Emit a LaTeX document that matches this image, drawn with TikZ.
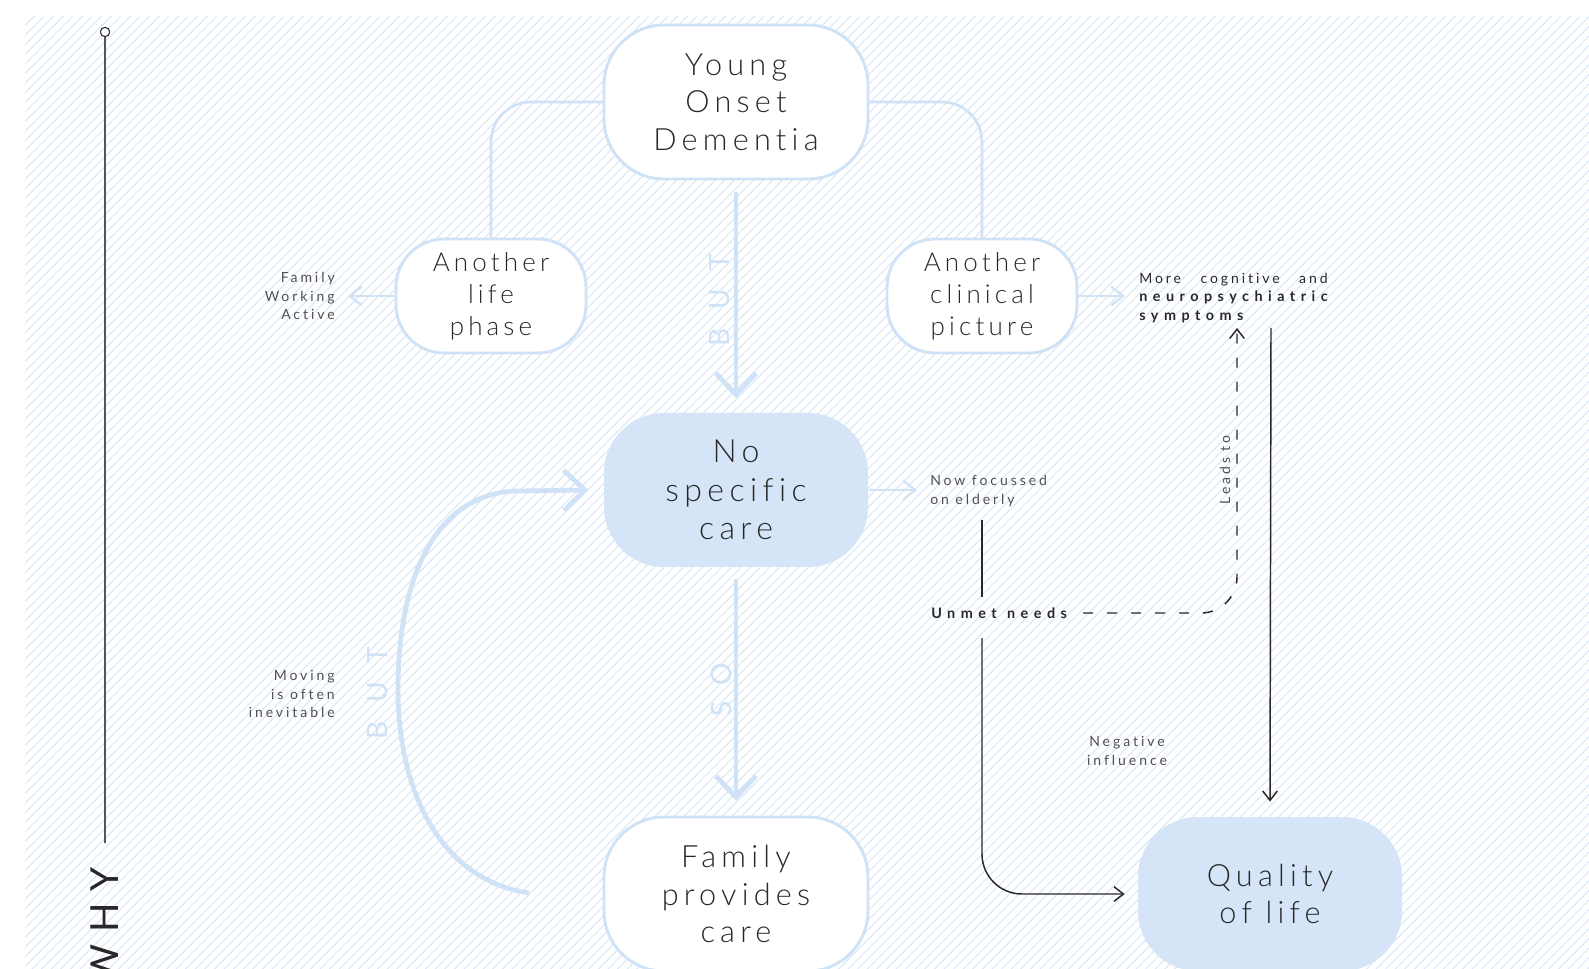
\documentclass[tikz,border=0pt]{standalone}
\usepackage{fontspec}
\setmainfont{Lato}[UprightFont={* Light}, BoldFont={* Bold}, Ligatures=NoCommon, RawFeature={-liga}]
\newfontfamily\lreg{Lato}[Ligatures=NoCommon, RawFeature={-liga}]
\usetikzlibrary{arrows.meta}
\definecolor{lb}{RGB}{208,226,246}
\definecolor{lbfill}{RGB}{213,229,247}
\definecolor{hatchc}{RGB}{212,228,247}
\definecolor{txt}{RGB}{40,40,40}
\definecolor{stxt}{RGB}{80,80,80}
\definecolor{tlc}{RGB}{85,85,85}
\newlength\mylen
\newcommand\bigf{\fontsize{23}{28}\selectfont\addfontfeature{LetterSpace=17}}
\newcommand\nscf{\fontsize{24}{29}\selectfont\addfontfeature{LetterSpace=17}}
\newcommand\midf{\fontsize{19.5}{24}\selectfont\addfontfeature{LetterSpace=16}}
\newcommand\smf{\lreg\fontsize{10.5}{14}\selectfont\addfontfeature{LetterSpace=21}}
\newcommand\smbf{\fontsize{10.8}{14}\selectfont\bfseries\addfontfeature{LetterSpace=38}}
\newcommand\lblf{\lreg\fontsize{21}{24}\selectfont}
\newcommand\whyf{\lreg\fontsize{29}{32}\selectfont}
\begin{document}
\begin{tikzpicture}[x=0.75pt,y=-0.75pt,
  hatch/.style={draw=hatchc, line width=0.65pt},
  wbox/.style={draw=lb, line width=2.2pt, fill=white, rounded corners=45pt,
    minimum width=198pt, minimum height=115.5pt, align=center, text=txt,
    font=\bigf, inner sep=0pt},
  fbox/.style={wbox, draw=none, fill=lbfill},
  sbox/.style={wbox, rounded corners=36pt, minimum width=142.5pt,
    minimum height=85.5pt, font=\midf},
  small/.style={text=stxt, font=\smf, inner sep=0pt},
  lbl/.style={text=lb, font=\lblf, inner sep=0pt},
  lbline/.style={draw=lb, line width=2pt, rounded corners=30pt},
  lbthin/.style={draw=lb, line width=1.6pt, -{Straight Barb[length=9pt,width=14pt]}},
  lbthick/.style={draw=lb, line width=3.6pt, -{Straight Barb[length=16pt,width=30pt]}},
  blk/.style={draw=txt, line width=1.1pt},
  blkarrow/.style={blk, -{Straight Barb[length=7pt,width=11pt]}},
]
\useasboundingbox (0,0) rectangle (1589,969);
\fill[white] (0,0) rectangle (1589,969);
\begin{scope}
  \clip (25,16) rectangle (1589,969);
  \foreach \i in {0,...,270} {\draw[hatch] ({25+\i*9.6},16) -- ++(-970,970);}
\end{scope}

% timeline
\node[circle, draw=txt, line width=0.8pt, fill=white, inner sep=0pt, minimum size=7pt] (tltop) at (105,32) {};
\coordinate (tlend) at (105,843);
\draw[draw=tlc, line width=1.5pt] (tltop) -- (tlend);
\node[rotate=90, anchor=east, font=\whyf, text=txt, inner sep=0pt] (why) at (105,867) {W\hspace{9pt}H\hspace{9pt}Y};

% main nodes
\node[wbox] (yod) at (736,102) {Young\\Onset\\Dementia};
\node[sbox] (alp) at (491,296) {Another\\life\\phase};
\node[sbox] (acp) at (982,296) {Another\\clinical\\picture};
\node[fbox, font=\nscf] (nsc) at (736,490) {No\\specific\\care};
\node[wbox] (fpc) at (736,894) {Family\\provides\\care};
\node[fbox] (qol) at (1270,894) {Quality\\of life};

% labels
\node[small, anchor=east, align=right] (fam) at (335,296) {Family\\Working\\Active};
\node[small, anchor=east, align=right] (mov) at (335,694) {Moving\\is often\\inevitable};
\node[small, anchor=west, align=left, text=txt] (more) at (1139,298)
  {{\settowidth{\mylen}{\smbf neuropsychiatric}\makebox[\mylen][s]{More cognitive and}}\\{\smbf neuropsychiatric}\\{\smbf symptoms}};
\node[small, anchor=west, align=left] (now) at (930,491) {Now focussed\\on elderly};
\node[small, anchor=west, text=txt, font=\smbf] (unm) at (931,613) {Unmet\hspace{1pt} needs};
\node[small, rotate=90] (leads) at (1225,470) {Leads to};
\node[small, align=center] (neg) at (1127,751) {Negative\\influence};
\node[lbl, rotate=90] (but1) at (720,300) {B\hspace{14pt}U\hspace{14pt}T};
\node[lbl, rotate=90] (so) at (721,690) {S\hspace{12pt}O};
\node[lbl, rotate=90] (but2) at (378,693) {B\hspace{14pt}U\hspace{14pt}T};

% coordinates for free ends
\coordinate (famtip) at (348,296);
\coordinate (moretip) at (1125,296);
\coordinate (nowtip) at (917,490);
\coordinate (u1) at (982,520);
\coordinate (u2) at (982,597);
\coordinate (u3) at (982,638);
\coordinate (d0) at (1083,613);
\coordinate (dtip) at (1237,328);
\coordinate (s0) at (1271,328);
\coordinate (c0) at (529,893);

% light blue connectors
\draw[lbline] (yod.west) -| (alp.north);
\draw[lbline] (yod.east) -| (acp.north);
\draw[lbthin] (alp.west) -- (famtip);
\draw[lbthin] (acp.east) -- (moretip);
\draw[lbthin] (nsc.east) -- (nowtip);
\draw[lbthick, shorten <=9pt, shorten >=10pt] (yod) -- (nsc);
\draw[lbthick, shorten <=8pt, shorten >=11pt] (nsc) -- (fpc);
\draw[lbthick] (c0) .. controls (440,880) and (398,790) .. (398,690)
  .. controls (398,570) and (440,491) .. (520,491) -- ([xshift=-10.5pt]nsc.west);

% black connectors
\draw[blk] (u1) -- (u2);
\draw[blkarrow, rounded corners=30pt] (u3) |- ([xshift=-9pt]qol.west);
\draw[blkarrow, dash pattern=on 7.5pt off 10.5pt, rounded corners=27pt] (d0) -| (dtip);
\draw[blkarrow] (s0) -- ([yshift=10.5pt]qol.north);
\end{tikzpicture}
\end{document}
